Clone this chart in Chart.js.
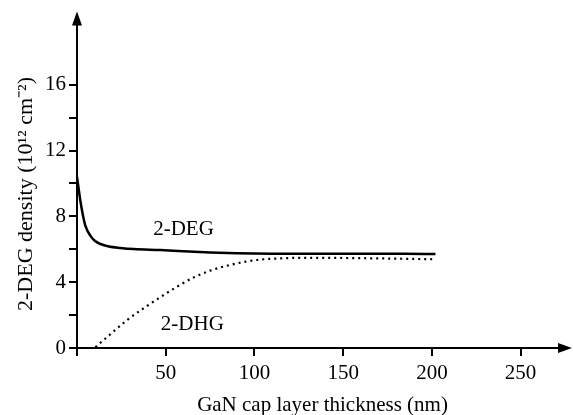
<!DOCTYPE html>
<html>
<head>
<meta charset="utf-8">
<script src="https://cdn.jsdelivr.net/npm/chart.js@4/dist/chart.umd.min.js"></script>
<style>
  html, body { margin: 0; padding: 0; background: #fff; }
  #wrap { width: 573px; height: 415px; position: relative; }
</style>
</head>
<body>
<div id="wrap"><canvas id="chart"></canvas></div>
<script>
// values
const degX = [0, 1.9, 3.2, 4.7, 7.5, 10, 13.2, 18, 24.4, 32, 47, 60, 75, 90, 110, 130, 160, 185, 202];
const degY = [10.4, 8.95, 8.15, 7.44, 6.83, 6.52, 6.32, 6.17, 6.08, 6.01, 5.95, 5.88, 5.81, 5.76, 5.73, 5.72, 5.72, 5.72, 5.71];
const dhgX = [10.4, 20, 28, 38, 47, 56, 66, 75, 85, 95, 103, 115, 125, 150, 180, 202];
const dhgY = [0.05, 0.95, 1.68, 2.45, 3.09, 3.7, 4.3, 4.7, 5.01, 5.25, 5.37, 5.45, 5.48, 5.47, 5.43, 5.39];
const xTicks = [0, 50, 100, 150, 200, 250];
const yTicks = [0, 2, 4, 6, 8, 10, 12, 14, 16];
const xTitle = 'GaN cap layer thickness (nm)';
const yTitle = '2-DEG density (10¹² cm⁻²)';
const labels = [
  { text: '2-DEG', x: 60, y: 7.2 },
  { text: '2-DHG', x: 65, y: 1.45 }
];

const serif = '"Liberation Serif", "Times New Roman", serif';

const toPts = (xs, ys) => xs.map((x, i) => ({ x: x, y: ys[i] }));

const extras = {
  id: 'extras',
  afterDraw(chart) {
    const { ctx, chartArea: a, scales } = chart;
    ctx.save();
    ctx.fillStyle = '#000';
    // arrow heads
    ctx.beginPath();
    ctx.moveTo(a.left, a.top - 4);
    ctx.lineTo(a.left - 5, a.top + 10);
    ctx.lineTo(a.left + 5, a.top + 10);
    ctx.closePath();
    ctx.fill();
    ctx.beginPath();
    ctx.moveTo(a.right + 4, a.bottom);
    ctx.lineTo(a.right - 10, a.bottom - 5);
    ctx.lineTo(a.right - 10, a.bottom + 5);
    ctx.closePath();
    ctx.fill();
    // curve labels
    ctx.font = '21px ' + serif;
    ctx.textAlign = 'center';
    ctx.textBaseline = 'middle';
    labels.forEach(l => {
      ctx.fillText(l.text, scales.x.getPixelForValue(l.x), scales.y.getPixelForValue(l.y));
    });
    // y title, sits a bit below the middle of the axis
    ctx.translate(26, 194);
    ctx.rotate(-Math.PI / 2);
    ctx.font = '22px ' + serif;
    ctx.fillText(yTitle, 0, 0);
    ctx.restore();
  }
};

new Chart(document.getElementById('chart'), {
  type: 'line',
  data: {
    datasets: [
      { label: '2-DEG', data: toPts(degX, degY), borderColor: '#000', borderWidth: 2.5,
        pointRadius: 0, fill: false, cubicInterpolationMode: 'monotone' },
      { label: '2-DHG', data: toPts(dhgX, dhgY), borderColor: '#000', borderWidth: 2.2,
        borderDash: [2, 4], borderCapStyle: 'butt', pointRadius: 0, fill: false, cubicInterpolationMode: 'monotone' }
    ]
  },
  options: {
    responsive: true,
    maintainAspectRatio: false,
    animation: false,
    layout: { padding: { left: 0, right: 5, top: 14, bottom: 0 } },
    plugins: { legend: { display: false }, tooltip: { enabled: false } },
    scales: {
      x: {
        type: 'linear', min: 0, max: 276.7,
        afterBuildTicks: s => { s.ticks = xTicks.map(v => ({ value: v })); },
        afterFit: s => { s.height = 67; },
        ticks: { color: '#000', font: { family: serif, size: 21 }, padding: 5, maxRotation: 0,
          callback: v => v === 0 ? '' : v },
        grid: { drawOnChartArea: false, color: '#000', lineWidth: 2, tickLength: 8 },
        border: { display: true, color: '#000', width: 2 },
        title: { display: true, text: xTitle, color: '#000', font: { family: serif, size: 21 }, padding: { top: 7, bottom: -3 } }
      },
      y: {
        type: 'linear', min: 0, max: 20.2,
        afterBuildTicks: s => { s.ticks = yTicks.map(v => ({ value: v })); },
        afterFit: s => { s.width = 77; },
        ticks: { color: '#000', font: { family: serif, size: 21 }, padding: 3,
          callback: v => v % 4 === 0 ? v : '' },
        grid: { drawOnChartArea: false, color: '#000', lineWidth: 2, tickLength: 8 },
        border: { display: true, color: '#000', width: 2 }
      }
    }
  },
  plugins: [extras]
});
</script>
</body>
</html>
